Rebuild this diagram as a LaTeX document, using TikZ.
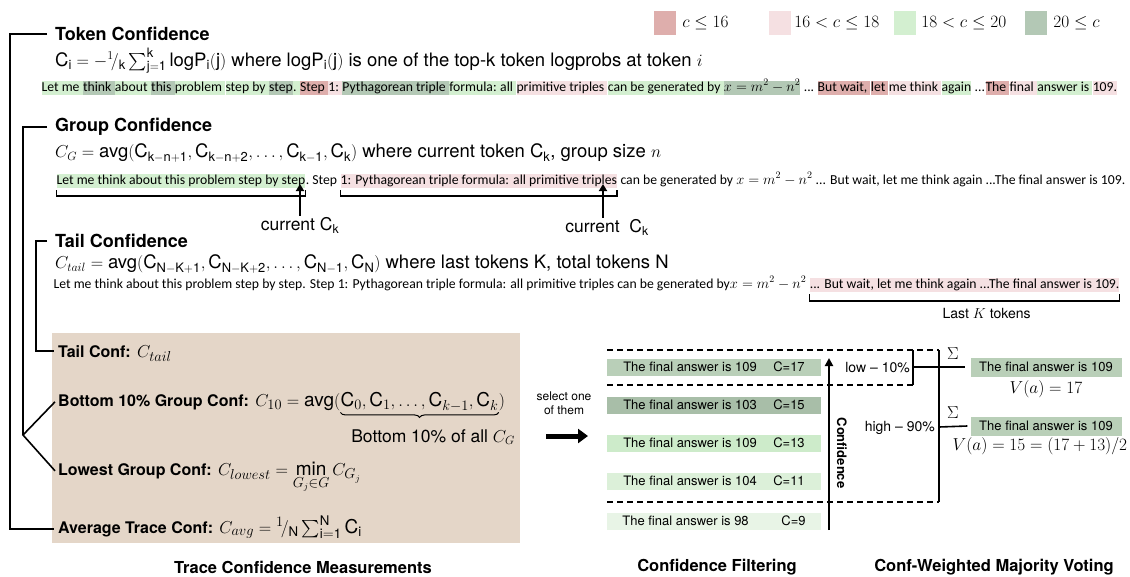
\documentclass[tikz,border=0pt]{standalone}
\usepackage{amsmath}
\usepackage{fontspec}
\setmainfont{TeX Gyre Heros}
\newfontfamily\tokfont{Carlito}
\usetikzlibrary{arrows.meta,positioning,decorations.pathreplacing}

\definecolor{lowred}{HTML}{DEAEAC}
\definecolor{midpink}{HTML}{F5E0E2}
\definecolor{midgreen}{HTML}{D3EFD0}
\definecolor{highgreen}{HTML}{B3C8B5}
\definecolor{tanbg}{HTML}{E4D6C8}
\definecolor{ansA}{HTML}{B9CFB8}
\definecolor{ansB}{HTML}{A8BEA8}
\definecolor{ansC}{HTML}{CDEBCA}
\definecolor{ansD}{HTML}{DCF0D9}
\definecolor{ansE}{HTML}{E8F4E6}

\newcommand{\Cu}[1]{\mathrm{C}_{\mathrm{#1}}}
\newcommand{\gap}{\ \hbox{}}

\tikzset{
  head/.style={font=\bfseries\fontsize{18}{20}\selectfont, anchor=west, inner sep=0pt},
  formula/.style={font=\fontsize{18.5}{21}\selectfont, anchor=west, inner sep=0pt},
  tok/.style={font=\tokfont\fontsize{13.7}{15}\selectfont, anchor=base west,
    inner xsep=0pt, inner ysep=0pt, text height=10.5pt, text depth=4pt, fill=#1},
  tok/.default=white,
  brk/.style={line width=1.6pt},
  cutline/.style={line width=1.2pt, dash pattern=on 6pt off 4pt},
  meas/.style={font=\bfseries\fontsize{16}{19}\selectfont, anchor=base west, inner sep=0pt},
  measf/.style={font=\fontsize{19}{21}\selectfont, anchor=base west, inner sep=0pt},
  legbox/.style={fill=#1, minimum width=22pt, minimum height=24pt, inner sep=0pt},
  legtxt/.style={font=\fontsize{16}{18}\selectfont, inner sep=0pt},
  ans/.style={fill=#1, minimum width=214pt, minimum height=17pt, inner sep=0pt,
    font=\fontsize{13}{15}\selectfont},
  vote/.style={fill=ansA, minimum width=151pt, minimum height=19pt, inner sep=0pt,
    font=\fontsize{13}{15}\selectfont},
  caption/.style={font=\bfseries\fontsize{16.5}{18}\selectfont, inner sep=0pt},
  upper/.style={line width=2.2pt, -{Triangle[length=7pt,width=8pt]}},
}

\begin{document}
\begin{tikzpicture}[x=1pt,y=-1pt]
\useasboundingbox (0,0) rectangle (1130,576);

% legend
\node[legbox=lowred] (lg1) at (665,23) {};
\node[legtxt, right=6pt of lg1] {$c \le 16$};
\node[legbox=midpink] (lg2) at (780,23) {};
\node[legtxt, right=3pt of lg2] {$16 < c \le 18$};
\node[legbox=midgreen] (lg3) at (905,23) {};
\node[legtxt, right=5pt of lg3] {$18 < c \le 20$};
\node[legbox=highgreen] (lg4) at (1036,23) {};
\node[legtxt, right=6pt of lg4] {$20 \le c$};

% token confidence
\node[head] (tokh) at (55,34) {Token Confidence};
\node[formula] (tokf) at (55,61) {$\mathrm{C_i} = -{}^{1}\!/_{\mathrm{k}}\sum_{\mathrm{j=1}}^{\mathrm{k}} \mathrm{logP_i(j)}$ where $\mathrm{logP_i(j)}$ is one of the top-k token logprobs at token $i$};
\node[tok] (a0) at (40,91) {};
\foreach \t/\c [count=\i, remember=\i as \j (initially 0)] in {
  {Let me\gap}/midgreen, {think\gap}/highgreen, {about\gap}/midgreen, {this\gap}/highgreen,
  {problem\gap}/midgreen, {step by\gap}/midgreen, {step}/highgreen, {.\gap}/midgreen,
  {Step\gap}/lowred, {1:\gap}/midpink, {Pythagorean triple\gap}/highgreen, {formula:\gap}/midgreen,
  {all\gap}/midgreen, {primitive triples\gap}/midpink, {can be generated by\gap}/midgreen,
  {$x = m^2 - n^2$}/highgreen, {\ ...\gap}/white, {But wait,\gap}/lowred, {let\gap}/lowred,
  {me think\gap}/midpink, {again}/midgreen, {\ ...}/white, {The\gap}/lowred, {final\gap}/midpink,
  {answer is\gap}/midgreen, {109.}/midpink}
  \node[tok=\c] (a\i) at (a\j.base east) {\t};

% group confidence
\node[head] (grph) at (55,127) {Group Confidence};
\node[formula] (grpf) at (55,153) {$C_G = \text{avg}(\Cu{k-n+1}, \Cu{k-n+2}, \dots, \Cu{k-1}, \Cu{k})$ where current token $\Cu{k}$, group size $n$};
\node[tok] (b0) at (55,184) {};
\foreach \t/\c [count=\i, remember=\i as \j (initially 0)] in {
  {Let me think about this problem step by step}/midgreen, {.\ Step\gap}/white,
  {1: Pythagorean triple formula: all primitive triples}/midpink,
  {\ can be generated by $x = m^2 - n^2$ ... But wait, let me think again ...The final answer is 109.}/white}
  \node[tok=\c] (b\i) at (b\j.base east) {\t};
\draw[brk] ([yshift=-2pt]b1.south west) -- ++(0,6) -| ([yshift=-2pt]b1.south east);
\draw[brk] ([yshift=-2pt]b3.south west) -- ++(0,6) -| ([yshift=-2pt]b3.south east);
\node[font=\fontsize{17.5}{19}\selectfont, inner sep=1pt] (cur1) at (300,225) {current $\Cu{k}$};
\node[font=\fontsize{17.5}{19}\selectfont, inner sep=1pt] (cur2) at (607,227) {current\ \ $\Cu{k}$};
\draw[upper] (cur1.north) -- (cur1.north |- b1.base);
\draw[upper] ([xshift=-4pt]cur2.north) -- ([xshift=-4pt]cur2.north |- b3.base);

% tail confidence
\node[head] (tailh) at (55,241) {Tail Confidence};
\node[formula] (tailf) at (55,264) {$C_{tail} = \text{avg}(\Cu{N-K+1}, \Cu{N-K+2}, \dots, \Cu{N-1}, \Cu{N})$ where last tokens $\mathrm{K}$, total tokens $\mathrm{N}$};
\node[tok] (c0) at (52,288) {};
\foreach \t/\c [count=\i, remember=\i as \j (initially 0)] in {
  {Let me think about this problem step by step. Step 1: Pythagorean triple formula: all primitive triples can be generated by$x = m^2 - n^2$\gap}/white,
  {... But wait, let me think again ...The final answer is 109.}/midpink}
  \node[tok=\c] (c\i) at (c\j.base east) {\t};
\draw[brk] ([yshift=-2pt]c2.south west) -- ++(0,7) -| ([yshift=-2pt]c2.south east);
\node[font=\fontsize{14}{16}\selectfont, below=13pt of c2.south, xshift=22pt] (lastk) {Last $K$ tokens};

% trace confidence measurements
\fill[tanbg] (52,333) rectangle (520,543);
\node[meas] (tailc) at (58,357) {Tail Conf:};
\node[measf] (tailcf) at ([xshift=6pt]tailc.base east) {$C_{tail}$};
\node[meas] (b10) at (58,406) {Bottom 10\% Group Conf:};
\node[measf] (b10f) at ([xshift=6pt]b10.base east) {$C_{10} = \text{avg}($};
\node[measf] (b10g) at (b10f.base east) {$\mathrm{C}_0, \mathrm{C}_1, \dots, \mathrm{C}_{k-1}, \mathrm{C}_k$};
\node[measf] (b10h) at (b10g.base east) {$)$};
\draw[decorate, decoration={brace, mirror, amplitude=5pt}, line width=1pt]
  ([yshift=-1pt]b10g.south west) -- ([yshift=-1pt]b10g.south east);
\node[measf, font=\fontsize{17.5}{19}\selectfont, anchor=base east] (b10n) at (515,442) {Bottom 10\% of all $C_G$};
\node[meas] (lowc) at (58,475) {Lowest Group Conf:};
\node[measf] (lowf) at ([xshift=6pt]lowc.base east) {$C_{lowest} = \min\limits_{G_j \in G} C_{G_j}$};
\node[meas] (avgc) at (58,533) {Average Trace Conf:};
\node[measf] (avgf) at ([xshift=6pt]avgc.base east) {$C_{avg} = {}^{1}\!/_{\mathrm{N}}\sum_{\mathrm{i=1}}^{\mathrm{N}} \mathrm{C_i}$};
\node[caption] (cap1) at (303,567) {Trace Confidence Measurements};

% brackets on the left
\coordinate (sp1) at (10,0);
\coordinate (sp3) at (36,0);
\coordinate (fork) at (23,435);
\draw[brk] ([xshift=-8pt]tokh.west) -- (sp1 |- tokh.west) |- ([xshift=-4pt]avgc.west);
\draw[brk] ([xshift=-8pt]grph.west) -| (fork);
\draw[brk] ([xshift=-3pt]b10.west) -- (fork) -- ([xshift=-3pt]lowc.west);
\draw[brk] ([xshift=-8pt]tailh.west) -- (sp3 |- tailh.west) |- ([xshift=-4pt]tailc.west);

% select one of them
\node[font=\fontsize{12}{14}\selectfont, align=center, inner sep=0pt] (sel) at (564,403) {select one\\of them};
\coordinate (selA) at (546,436);
\coordinate (selB) at (588,436);
\draw[line width=5pt, -{Triangle[length=10pt,width=14pt]}] (selA) -- (selB);

% confidence filtering
\node[ans=ansA] (r1) at (714,367) {\makebox[150pt][l]{The final answer is 109}C=17};
\node[ans=ansB] (r2) at (714,405) {\makebox[150pt][l]{The final answer is 103}C=15};
\node[ans=ansC] (r3) at (714,443) {\makebox[150pt][l]{The final answer is 109}C=13};
\node[ans=ansD] (r4) at (714,481) {\makebox[150pt][l]{The final answer is 104}C=11};
\node[ans=ansE] (r5) at (714,521) {\makebox[159pt][l]{The final answer is 98}C=9};
\draw[cutline] (607,350) -- (939,350);
\draw[cutline] (607,385) -- (913,385);
\draw[cutline] (607,502) -- (939,502);
\coordinate (cbot) at (829,530);
\coordinate (ctop) at (829,358);
\draw[line width=2pt, -{Triangle[length=8pt,width=8pt]}] (cbot) -- (ctop);
\node[rotate=-90, font=\bfseries\fontsize{13}{15}\selectfont, inner sep=0pt] (confl) at (842,453) {Confidence};
\node[caption] (cap2) at (717,567) {Confidence Filtering};

% conf-weighted majority voting
\draw[brk] (913,350) -- (913,385);
\draw[brk] (939,350) -- (939,502);
\node[font=\fontsize{14}{16}\selectfont, anchor=east, inner sep=0pt] (lowl) at (910,368) {low -- 10\%};
\node[font=\fontsize{14}{16}\selectfont, anchor=east, inner sep=0pt] (highl) at (935,428) {high -- 90\%};
\node[vote] (v1) at (1046,367) {The final answer is 109};
\node[vote] (v2) at (1046,426) {The final answer is 109};
\draw[brk] (913,367) -- ([xshift=-5pt]v1.west);
\draw[brk] (939,427) -- ([xshift=-3pt]v2.west);
\node[font=\fontsize{18}{20}\selectfont, inner sep=0pt] (s1) at (953,354) {$\Sigma$};
\node[font=\fontsize{18}{20}\selectfont, inner sep=0pt] (s2) at (953,413) {$\Sigma$};
\node[font=\fontsize{16}{19}\selectfont, inner sep=0pt] (va1) at (1046,389) {$V(a) = 17$};
\node[font=\fontsize{16}{19}\selectfont, inner sep=0pt] (va2) at (1040,446) {$V(a) = 15 = (17 + 13)/2$};
\node[caption] (cap3) at (994,567) {Conf-Weighted Majority Voting};
\end{tikzpicture}
\end{document}
